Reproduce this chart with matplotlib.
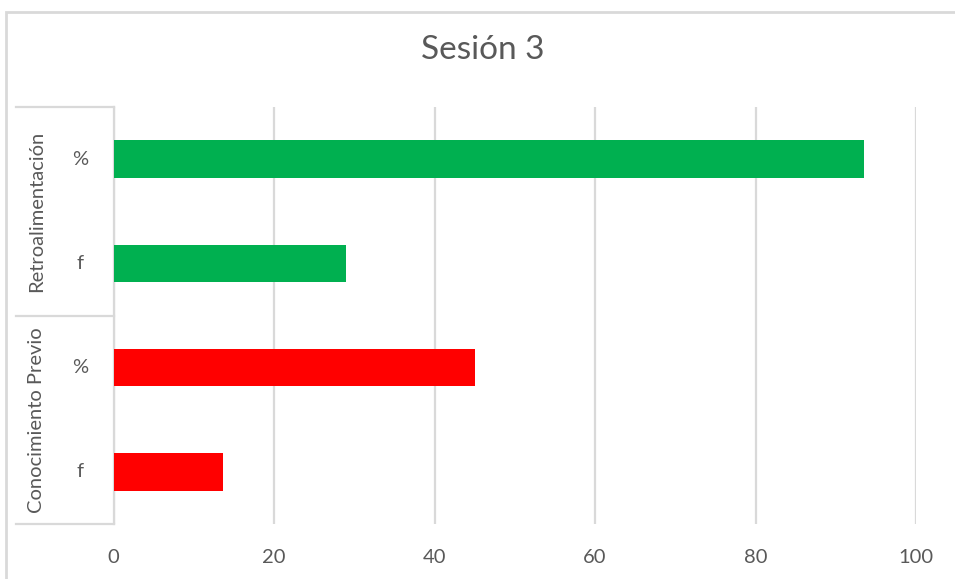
import matplotlib
matplotlib.use("Agg")
import matplotlib.pyplot as plt
from matplotlib.lines import Line2D
from matplotlib.patches import Rectangle
from matplotlib.transforms import blended_transform_factory

plt.rcParams['font.family'] = ['Lato', 'DejaVu Sans']

# data (bottom to top, as drawn)
groups = ['Conocimiento Previo', 'Retroalimentación']
subcats = ['f', '%']
values = {
    'Conocimiento Previo': [13.7, 45],
    'Retroalimentación': [29, 93.5],
}
group_colors = {'Conocimiento Previo': '#FF0000', 'Retroalimentación': '#00B050'}
xticks = [0, 20, 40, 60, 80, 100]

W, H = 955, 579
fig = plt.figure(figsize=(W / 100, H / 100), dpi=100)

def fx(px):
    return px / W

def fy(py):
    return 1 - py / H

ax_l, ax_r, ax_t, ax_b = 113.5, 916, 107, 524
ax = fig.add_axes([fx(ax_l), fy(ax_b), fx(ax_r) - fx(ax_l), fy(ax_t) - fy(ax_b)])

txt = '#595959'
grid = '#D9D9D9'

ypos = []
labels = []
pos = 0
for g in groups:
    for i, s in enumerate(subcats):
        ax.barh(pos, values[g][i], height=0.36, color=group_colors[g], zorder=3)
        ypos.append(pos)
        labels.append(s)
        pos += 1

ax.set_xlim(0, 100)
ax.set_ylim(-0.5, len(ypos) - 0.5)
ax.set_xticks(xticks)
ax.set_xticklabels([str(t) for t in xticks], fontsize=14.5, color=txt)
ax.tick_params(axis='x', length=0, pad=18)
ax.set_yticks([])
ax.grid(axis='x', color=grid, linewidth=1.6, zorder=0)
for side in ['top', 'right', 'bottom']:
    ax.spines[side].set_visible(False)
ax.spines['left'].set_color(grid)
ax.spines['left'].set_linewidth(1.6)

# category labels
trans = blended_transform_factory(ax.transAxes, ax.transData)
sub_x = (80 - ax_l) / (ax_r - ax_l)
grp_x = (37 - ax_l) / (ax_r - ax_l)
for y, lab in zip(ypos, labels):
    ax.text(sub_x, y, lab, transform=trans, ha='center', va='center',
            fontsize=14.5, color=txt)
n = len(subcats)
for gi, g in enumerate(groups):
    ax.text(grp_x, gi * n + (n - 1) / 2, g, transform=trans, rotation=90,
            ha='center', va='center', fontsize=14.5, color=txt)

# group separator lines
box_l = 16
lw = 1.6
mid = (ax_t + ax_b) / 2
for py in [ax_t, mid, ax_b]:
    fig.add_artist(Line2D([fx(box_l), fx(ax_l)], [fy(py), fy(py)], color=grid, lw=lw))

# chart border
fig.add_artist(Rectangle((fx(6), fy(600)), fx(1000), fy(12) - fy(600),
                         transform=fig.transFigure, fill=False,
                         edgecolor=grid, lw=2))

fig.text(0.505, fy(50), 'Sesión 3', ha='center', va='center',
         fontsize=24, color=txt)

fig.savefig('out.png', dpi=100)
